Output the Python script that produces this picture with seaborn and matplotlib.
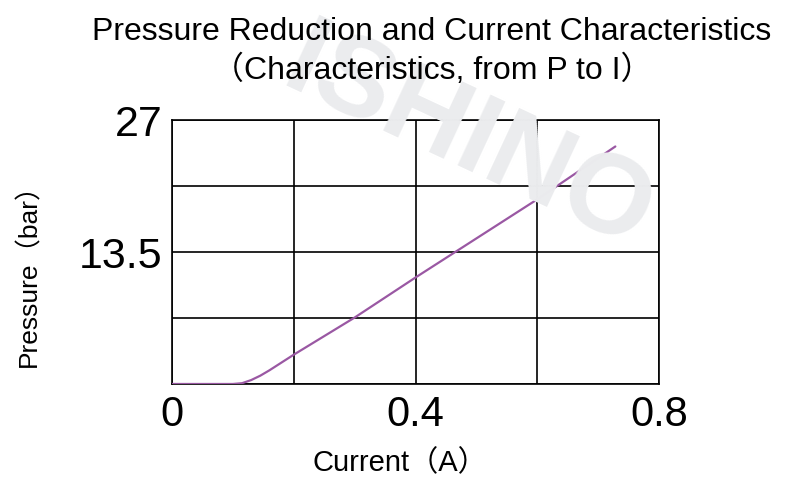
import pandas as pd
import numpy as np
import matplotlib
matplotlib.use("Agg")
import matplotlib.pyplot as plt
import seaborn as sns

# values
current = [0.0, 0.10, 0.115, 0.13, 0.145, 0.16, 0.18, 0.2, 0.3, 0.4, 0.5, 0.6, 0.728]
pressure = [0.0, 0.0, 0.08, 0.4, 0.85, 1.4, 2.2, 3.0, 6.8, 10.9, 14.9, 18.9, 24.3]

x_ticks = [0, 0.2, 0.4, 0.6, 0.8]
x_labels = ['0', '', '0.4', '', '0.8']
y_ticks = [0, 6.75, 13.5, 20.25, 27]
y_labels = ['', '', '13.5', '', '27']

sns.set_style("white")
plt.rcParams['font.family'] = ['Liberation Sans', 'Noto Sans CJK SC', 'DejaVu Sans']
plt.rcParams['text.color'] = 'black'
plt.rcParams['xtick.color'] = 'black'
plt.rcParams['ytick.color'] = 'black'

df = pd.DataFrame({'Current': current, 'Pressure': pressure})

fig = plt.figure(figsize=(8, 4.97), dpi=100)
ax = fig.add_axes([0.215, 0.2274, 0.609, 0.531])
ax.patch.set_alpha(0)

# watermark behind everything
fig.text(0.585, 0.715, 'ISHINO', fontsize=82, fontweight='bold', color='#ebecee',
         rotation=-25, ha='center', va='center', zorder=0)

sns.lineplot(data=df, x='Current', y='Pressure', ax=ax, color='#9a58a3', linewidth=1.6, zorder=3)

ax.set_xlim(0, 0.8)
ax.set_ylim(0, 27)
ax.set_xticks(x_ticks)
ax.set_xticklabels(x_labels, fontsize=30)
ax.set_yticks(y_ticks)
ax.set_yticklabels(y_labels, fontsize=31)
ax.tick_params(length=0, pad=8)
ax.tick_params(axis='y', pad=7)
ax.grid(True, color='black', linewidth=1.2)
for s in ax.spines.values():
    s.set_color('black')
    s.set_linewidth(1.2)
    s.set_visible(True)

ax.set_xlabel('')
ax.set_ylabel('')
fig.text(0.5, 0.068, 'Current（A）', fontsize=21, ha='center', va='center')
fig.text(0.036, 0.46, 'Pressure（bar）', fontsize=19, ha='center', va='center', rotation=90)

fig.text(0.54, 0.935, 'Pressure Reduction and Current Characteristics', fontsize=23,
         ha='center', va='center')
fig.text(0.54, 0.858, '（Characteristics, from P to I）', fontsize=23,
         ha='center', va='center')

plt.savefig('out.png', dpi=100)
